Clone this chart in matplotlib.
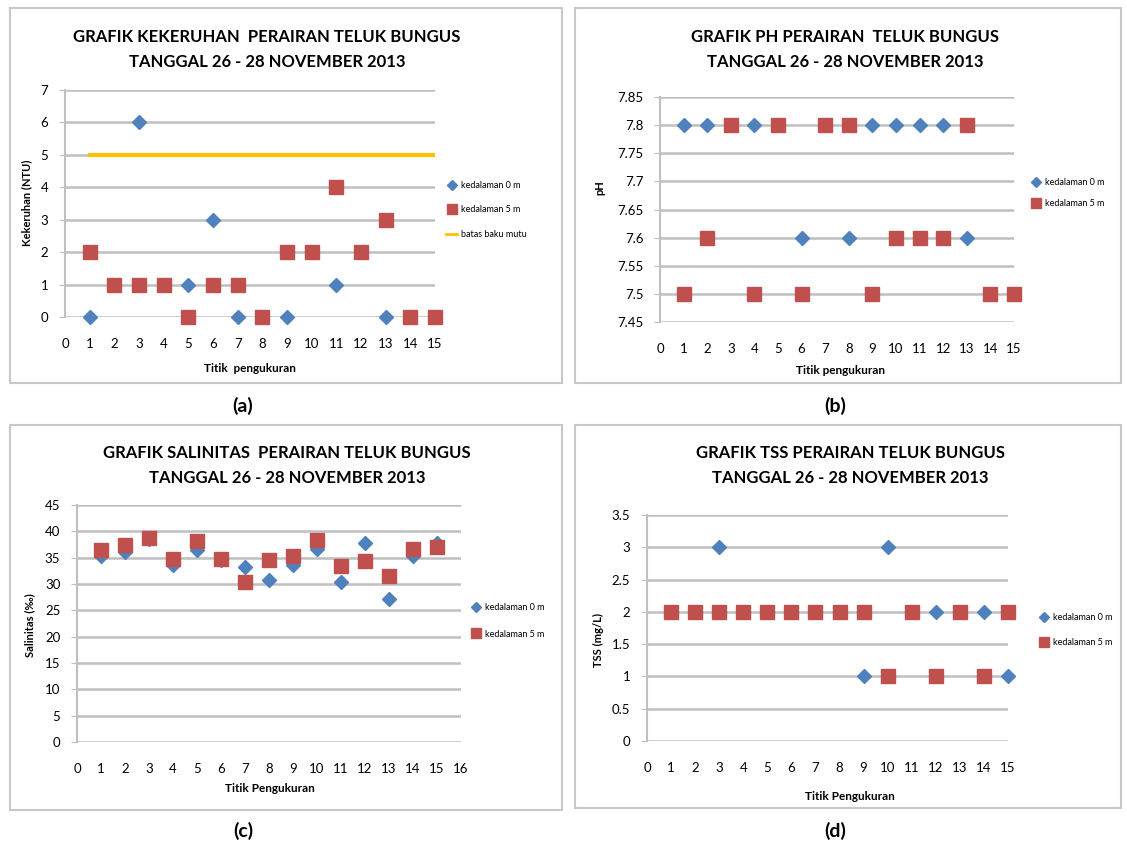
import matplotlib.pyplot as plt
from matplotlib.patches import Rectangle
from matplotlib.lines import Line2D
import numpy as np

plt.rcParams['font.family'] = ['Lato', 'DejaVu Sans']

W, H = 1127, 849

titik = list(range(1, 16))

# (a) kekeruhan (NTU)
keruh_0m = [0, 1, 6, 1, 1, 3, 0, 0, 0, 2, 1, 2, 0, 0, 0]
keruh_5m = [2, 1, 1, 1, 0, 1, 1, 0, 2, 2, 4, 2, 3, 0, 0]
batas_baku = [5] * 15

# (b) pH
ph_0m = [7.8, 7.8, 7.8, 7.8, 7.8, 7.6, 7.8, 7.6, 7.8, 7.8, 7.8, 7.8, 7.6, 7.5, 7.5]
ph_5m = [7.5, 7.6, 7.8, 7.5, 7.8, 7.5, 7.8, 7.8, 7.5, 7.6, 7.6, 7.6, 7.8, 7.5, 7.5]

# (c) salinitas (permil)
sal_0m = [35.3, 36.1, 38.5, 33.7, 36.4, 34.5, 33.3, 30.7, 33.6, 36.7, 30.4, 37.7, 27.2, 35.3, 37.8]
sal_5m = [36.5, 37.5, 38.7, 34.8, 38.2, 34.7, 30.4, 34.5, 35.4, 38.3, 33.4, 34.3, 31.5, 36.6, 37.1]

# (d) TSS (mg/L)
tss_0m = [2, 2, 3, 2, 2, 2, 2, 2, 1, 3, 2, 2, 2, 2, 1]
tss_5m = [2, 2, 2, 2, 2, 2, 2, 2, 2, 1, 2, 1, 2, 1, 2]

BLUE = '#4F81BD'
RED = '#C0504D'
GRID = '#BFBFBF'

fig = plt.figure(figsize=(W / 100, H / 100), dpi=100)


def px_axes(x0, y0, x1, y1):
    return fig.add_axes([x0 / W, 1 - y1 / H, (x1 - x0) / W, (y1 - y0) / H])


def box(x0, y0, x1, y1):
    fig.add_artist(Rectangle((x0 / W, 1 - y1 / H), (x1 - x0) / W, (y1 - y0) / H,
                             transform=fig.transFigure, fill=False,
                             edgecolor='#C8C8C8', linewidth=1.5))


def ftext(x, y, s, **kw):
    fig.text(x / W, 1 - y / H, s, ha='center', va='center', **kw)


def panel(rect, ylim, yticks, xmax, ylab, ylab_xy, xlab, xlab_xy, title, title_xy,
          d0, d5, ytfmt=None):
    ax = px_axes(*rect)
    ax.plot(titik, d0, linestyle='none', marker='D', color=BLUE, markersize=7,
            zorder=3, clip_on=False)
    ax.plot(titik, d5, linestyle='none', marker='s', color=RED, markersize=10.5,
            zorder=4, clip_on=False)
    ax.set_xlim(0, xmax)
    ax.set_ylim(*ylim)
    ax.set_xticks(range(0, xmax + 1))
    ax.set_yticks(yticks)
    if ytfmt:
        ax.set_yticklabels([ytfmt(v) for v in yticks])
    ax.grid(axis='y', color=GRID, linewidth=1.8)
    ax.set_axisbelow(True)
    for s in ['top', 'right', 'bottom']:
        ax.spines[s].set_visible(False)
    ax.spines['left'].set_color(GRID)
    ax.spines['left'].set_linewidth(1.5)
    ax.tick_params(axis='y', length=4, color=GRID, labelsize=9.5, pad=8)
    ax.tick_params(axis='x', length=0, labelsize=9.5, pad=15)
    ax.set_ylabel(ylab, fontsize=8, fontweight='bold', va='center')
    ax.yaxis.set_label_coords(ylab_xy[0] / W, 1 - ylab_xy[1] / H, transform=fig.transFigure)
    ax.set_xlabel(xlab, fontsize=8.5, fontweight='bold', va='center')
    ax.xaxis.set_label_coords(xlab_xy[0] / W, 1 - xlab_xy[1] / H, transform=fig.transFigure)
    l1, l2 = title.split('\n')
    ftext(title_xy[0], title_xy[1], l1, fontsize=12, fontweight='bold')
    ftext(title_xy[0], title_xy[1] + 25, l2, fontsize=12, fontweight='bold')
    return ax


def leg(ax, handles, xy, spacing=1.2):
    ax.legend(handles=handles, loc='center left', frameon=False,
              bbox_to_anchor=(xy[0] / W, 1 - xy[1] / H), bbox_transform=fig.transFigure,
              fontsize=6.5, handlelength=1.2, handletextpad=0.4, labelspacing=spacing)


# panel frames
box(10, 8, 562, 383)
box(575, 8, 1121, 383)
box(10, 425, 562, 810)
box(575, 425, 1121, 808)

h_depth = [Line2D([], [], linestyle='none', marker='D', color=BLUE, markersize=5, label='kedalaman 0 m'),
           Line2D([], [], linestyle='none', marker='s', color=RED, markersize=7, label='kedalaman 5 m')]

# (a)
ax_a = panel((65, 90, 435, 317), (0, 7), range(0, 8), 15,
             'Kekeruhan (NTU)', (27, 203), 'Titik  pengukuran', (250, 368),
             'GRAFIK KEKERUHAN  PERAIRAN TELUK BUNGUS\nTANGGAL 26 - 28 NOVEMBER 2013', (267, 37),
             keruh_0m, keruh_5m)
ax_a.plot(titik, batas_baku, color='#FFC000', linewidth=3, zorder=2)
h_a = h_depth + [Line2D([], [], color='#FFC000', linewidth=2, label='batas baku mutu')]
leg(ax_a, h_a, (438, 210), spacing=1.7)

# (b)
ax_b = panel((660, 97, 1014, 322), (7.45, 7.85), np.arange(7.45, 7.851, 0.05), 15,
             'pH', (600, 188), 'Titik pengukuran', (840, 370),
             'GRAFIK PH PERAIRAN  TELUK BUNGUS\nTANGGAL 26 - 28 NOVEMBER 2013', (845, 37),
             ph_0m, ph_5m, ytfmt=lambda v: f'{v:.2f}'.rstrip('0').rstrip('.'))
leg(ax_b, h_depth, (1022, 193), spacing=1.4)

# (c)
ax_c = panel((77, 505, 461, 742), (0, 45), range(0, 46, 5), 16,
             'Salinitas (‰)', (30, 625), 'Titik Pengukuran', (270, 789),
             'GRAFIK SALINITAS  PERAIRAN TELUK BUNGUS\nTANGGAL 26 - 28 NOVEMBER 2013', (287, 453),
             sal_0m, sal_5m)
leg(ax_c, h_depth, (462, 621), spacing=1.9)

# (d)
ax_d = panel((647, 515, 1008, 741), (0, 3.5), np.arange(0, 3.51, 0.5), 15,
             'TSS (mg/L)', (598, 640), 'Titik Pengukuran', (850, 797),
             'GRAFIK TSS PERAIRAN TELUK BUNGUS\nTANGGAL 26 - 28 NOVEMBER 2013', (850, 453),
             tss_0m, tss_5m, ytfmt=lambda v: f'{v:g}')
leg(ax_d, h_depth, (1030, 630), spacing=1.7)

# captions
for x, y, s in [(243, 406, '(a)'), (835, 406, '(b)'), (243, 831, '(c)'), (835, 831, '(d)')]:
    ftext(x, y, s, fontsize=14, fontweight='bold')

fig.savefig('out.png', dpi=100)
